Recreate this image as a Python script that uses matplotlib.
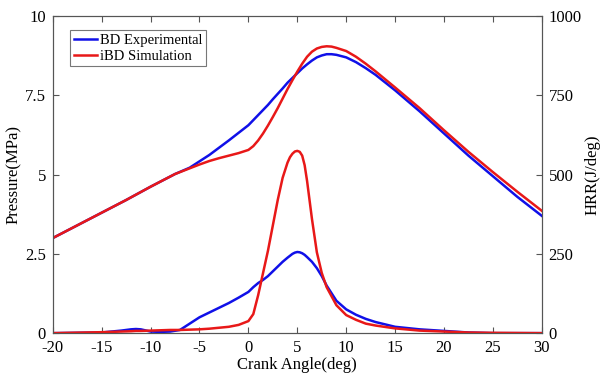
import matplotlib.pyplot as plt

plt.rcParams['font.family'] = ['Liberation Serif', 'DejaVu Serif']
plt.rcParams['axes.unicode_minus'] = False

# Pressure data (MPa) vs crank angle (deg)
p_angle = [-20, -17.5, -15, -12.5, -10, -7.5, -6, -5, -4, -3, -2, -1, 0, 0.5, 1, 1.5, 2, 2.5, 3, 3.5,
           4, 4.5, 5, 5.5, 6, 6.5, 7, 7.5, 8, 8.5, 9, 10, 11, 12, 13, 15, 17.5, 20, 22.5, 25, 27.5, 30]
p_exp = [3.0, 3.4, 3.8, 4.2, 4.62, 5.02, 5.22, 5.42, 5.62, 5.85, 6.08, 6.32, 6.56, 6.72, 6.88, 7.04,
         7.2, 7.38, 7.55, 7.72, 7.9, 8.05, 8.2, 8.35, 8.48, 8.6, 8.7, 8.76, 8.8, 8.8, 8.78, 8.7, 8.55,
         8.36, 8.15, 7.66, 7.0, 6.3, 5.6, 4.95, 4.3, 3.7]
p_sim = [3.0, 3.4, 3.8, 4.2, 4.62, 5.02, 5.2, 5.32, 5.43, 5.52, 5.6, 5.68, 5.78, 5.9, 6.08, 6.3, 6.55,
         6.82, 7.1, 7.4, 7.7, 7.98, 8.25, 8.5, 8.72, 8.88, 8.98, 9.03, 9.05, 9.04, 9.0, 8.9, 8.72, 8.5,
         8.26, 7.75, 7.1, 6.4, 5.72, 5.08, 4.46, 3.86]

# Heat release rate (J/deg)
h_angle = [-20, -15, -13, -12, -11.5, -11, -10, -9, -8, -7, -6, -5, -4, -3, -2, -1, 0, 0.5, 1, 1.5,
           2, 2.5, 3, 3.5, 4, 4.25, 4.5, 4.75, 5, 5.25, 5.5, 5.75, 6, 6.5, 7, 7.5, 8, 9, 10, 11, 12,
           13, 15, 17.5, 20, 22.5, 25, 30]
h_exp = [0, 2, 8, 12, 13, 12, 5, 4, 5, 10, 30, 50, 65, 80, 95, 112, 130, 145, 158, 168, 180, 195,
         210, 225, 238, 244, 250, 254, 256, 255, 252, 247, 240, 225, 205, 180, 150, 102, 75, 58, 45,
         35, 20, 12, 7, 2, 0, 0]
h_sim = [0, 3, 5, 6, 7, 7, 8, 9, 10, 10, 11, 12, 14, 17, 20, 26, 38, 60, 120, 190, 260, 340, 420,
         490, 538, 555, 566, 573, 575, 572, 560, 530, 480, 360, 255, 190, 145, 88, 57, 42, 30, 24,
         15, 8, 5, 2, 1, 0]

blue = '#1010e8'
red = '#e81818'

fig = plt.figure(figsize=(6, 3.76), dpi=100)
ax = fig.add_axes([0.088, 0.114, 0.815, 0.843])
ax2 = ax.twinx()

ax.plot(p_angle, p_exp, color=blue, lw=1.8, label='BD Experimental')
ax.plot(p_angle, p_sim, color=red, lw=1.8, label='iBD Simulation')
ax2.plot(h_angle, h_exp, color=blue, lw=1.8)
ax2.plot(h_angle, h_sim, color=red, lw=1.8)

ax.set_xlim(-20, 30)
ax.set_ylim(0, 10)
ax2.set_ylim(0, 1000)
ax.set_xticks(range(-20, 31, 5))
ax.set_yticks([0, 2.5, 5, 7.5, 10])
ax.set_yticklabels(['0', '2.5', '5', '7.5', '10'])
ax2.set_yticks([0, 250, 500, 750, 1000])

ax.set_xlabel('Crank Angle(deg)', fontsize=12, labelpad=1)
ax.set_ylabel('Pressure(MPa)', fontsize=12, labelpad=2)
ax2.set_ylabel('HRR(J/deg)', fontsize=12, labelpad=2)

ax.tick_params(axis='x', direction='in', top=True, labelsize=12, length=4, pad=5, color='#555555')
ax.tick_params(axis='y', direction='in', labelsize=12, length=4, pad=5, color='#555555')
ax2.tick_params(direction='in', labelsize=12, length=4, pad=5, color='#555555')
for a in (ax, ax2):
    for s in a.spines.values():
        s.set_color('#555555')
        s.set_linewidth(0.8)

leg = ax.legend(loc='upper left', bbox_to_anchor=(0.035, 0.955), fontsize=10.5, frameon=True,
                fancybox=False, handlelength=1.6, handletextpad=0.2, borderpad=0.25,
                labelspacing=0.15, borderaxespad=0)
leg.get_frame().set_edgecolor('#555555')
leg.get_frame().set_linewidth(0.8)

fig.savefig('out.png', dpi=100)
